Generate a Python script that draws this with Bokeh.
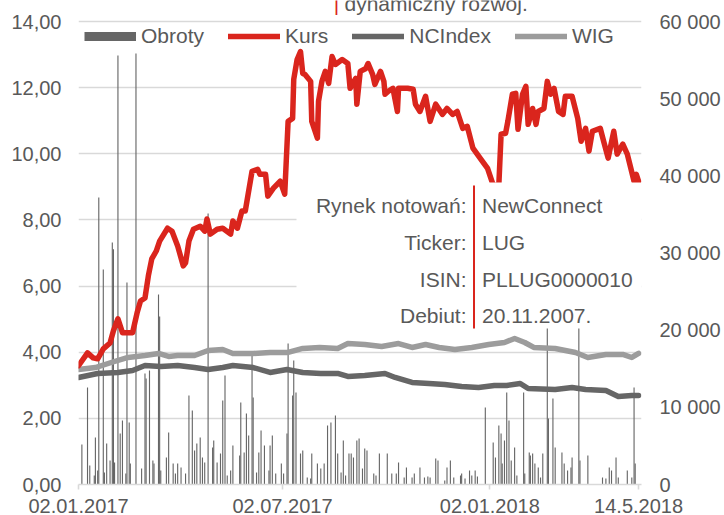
from datetime import datetime, timedelta
from bokeh.plotting import figure
from bokeh.models import (Range1d, LinearAxis, FixedTicker, Legend, LegendItem,
                          BoxAnnotation, Label, ColumnDataSource)
from bokeh.embed import file_html
from bokeh.resources import INLINE

# ---------------- data ----------------
kurs_dates = ["2017-01-02","2017-01-10","2017-01-15","2017-01-19","2017-01-24","2017-01-30","2017-02-02","2017-02-06","2017-02-10","2017-02-19",
"2017-02-23","2017-02-26","2017-03-02","2017-03-05","2017-03-08","2017-03-12","2017-03-15","2017-03-22","2017-03-26","2017-03-31",
"2017-04-05","2017-04-07","2017-04-10","2017-04-14","2017-04-20","2017-04-24","2017-04-26","2017-04-29","2017-05-05","2017-05-10",
"2017-05-17","2017-05-19","2017-05-23","2017-05-27","2017-05-30","2017-06-05","2017-06-10","2017-06-12","2017-06-17","2017-06-19",
"2017-06-24","2017-06-30","2017-07-04","2017-07-07","2017-07-11","2017-07-12","2017-07-15","2017-07-18","2017-07-20","2017-07-22",
"2017-07-27","2017-07-28","2017-08-02","2017-08-03","2017-08-06","2017-08-09","2017-08-12","2017-08-15","2017-08-18","2017-08-24",
"2017-08-29","2017-08-31","2017-09-05","2017-09-06","2017-09-09","2017-09-14","2017-09-16","2017-09-20","2017-09-22","2017-09-27",
"2017-09-30","2017-10-01","2017-10-04","2017-10-08","2017-10-12","2017-10-13","2017-10-21","2017-10-26","2017-10-28","2017-11-01",
"2017-11-06","2017-11-10","2017-11-15","2017-11-21","2017-11-25","2017-11-30","2017-12-04","2017-12-09","2017-12-13","2017-12-18",
"2017-12-25","2017-12-31","2018-01-05","2018-01-10","2018-01-12","2018-01-16","2018-01-18","2018-01-22","2018-01-25","2018-01-27",
"2018-01-31","2018-02-03","2018-02-05","2018-02-09","2018-02-12","2018-02-14","2018-02-19","2018-02-22","2018-02-25","2018-02-28",
"2018-03-04","2018-03-08","2018-03-10","2018-03-16","2018-03-21","2018-03-24","2018-03-28","2018-03-31","2018-04-03","2018-04-10",
"2018-04-13","2018-04-17","2018-04-22","2018-04-25","2018-04-30","2018-05-04","2018-05-10","2018-05-12","2018-05-14"]
kurs_values = [3.59,3.98,3.83,3.80,4.10,4.28,4.65,5.01,4.59,4.59,
5.19,5.55,5.64,6.31,6.82,7.06,7.36,7.75,7.66,7.21,
6.61,6.70,7.36,7.72,7.81,7.66,8.03,7.57,7.72,7.75,
7.57,7.97,7.75,8.27,8.27,9.47,9.53,9.38,9.38,8.72,
8.96,9.17,8.78,10.98,11.07,12.25,12.85,13.09,12.43,12.40,
12.19,10.98,10.47,11.59,12.19,12.49,12.13,12.94,12.70,12.85,
12.73,11.98,12.28,11.50,12.49,12.58,12.73,12.40,12.10,12.49,
12.19,11.80,11.89,11.98,11.28,11.98,11.98,11.95,11.50,11.28,
11.74,10.98,11.50,11.19,11.37,11.19,11.28,10.77,10.83,10.17,
9.84,9.56,9.05,9.05,10.59,10.62,10.98,11.80,11.83,10.74,
11.80,12.04,10.89,11.37,10.89,11.28,11.37,12.19,11.80,11.98,
11.28,11.19,11.74,11.74,11.07,10.38,10.77,10.08,10.68,10.77,
10.38,9.87,10.68,9.99,10.29,9.99,9.17,9.38,9.17]

nc_dates = ["2017-01-02","2017-01-19","2017-02-06","2017-02-19","2017-03-02","2017-03-16","2017-03-31","2017-04-15","2017-04-27","2017-05-10",
"2017-05-19","2017-06-06","2017-06-21","2017-07-06","2017-07-20","2017-08-05","2017-08-20","2017-08-29","2017-09-13","2017-10-01",
"2017-10-10","2017-10-25","2017-11-09","2017-11-23","2017-12-08","2017-12-23","2018-01-06","2018-01-17","2018-01-29","2018-02-05",
"2018-03-01","2018-03-16","2018-03-28","2018-04-15","2018-04-26","2018-05-08","2018-05-14"]
nc_values = [13870,14390,14520,14770,15420,15290,15420,15160,14900,15160,
15420,15160,14520,14900,14520,14390,14390,14000,14130,14390,
13870,13220,13090,12960,12700,12570,12830,12830,13090,12440,
12310,12570,12310,12180,11400,11530,11530]

wig_dates = ["2017-01-02","2017-01-17","2017-01-31","2017-02-15","2017-03-02","2017-03-14","2017-03-23","2017-03-31","2017-04-15","2017-04-27",
"2017-05-10","2017-05-19","2017-06-06","2017-06-21","2017-07-07","2017-07-20","2017-08-04","2017-08-20","2017-08-29","2017-09-13",
"2017-09-28","2017-10-13","2017-10-25","2017-11-06","2017-11-18","2017-12-02","2017-12-17","2018-01-01","2018-01-15","2018-01-24",
"2018-02-02","2018-02-10","2018-03-01","2018-03-19","2018-03-30","2018-04-15","2018-04-30","2018-05-08","2018-05-14"]
wig_values = [14900,15160,15810,16460,16720,16980,16590,16720,16720,17370,
17500,16980,16980,17110,17110,17630,17760,17630,18270,18140,
17880,18270,17760,18140,17760,17500,17760,18140,18400,18920,
18400,17760,17630,17110,16460,16850,16850,16460,16980]

obroty_dates = ["2017-01-05","2017-01-10","2017-01-12","2017-01-16","2017-01-17","2017-01-19","2017-01-20","2017-01-24","2017-01-25","2017-01-27",
"2017-01-30","2017-02-01","2017-02-02","2017-02-03","2017-02-06","2017-02-08","2017-02-10","2017-02-13","2017-02-14","2017-02-16",
"2017-02-17","2017-02-22","2017-02-27","2017-03-02","2017-03-03","2017-03-06","2017-03-09","2017-03-10","2017-03-14","2017-03-15",
"2017-03-16","2017-03-21","2017-03-23","2017-03-27","2017-03-29","2017-03-31","2017-04-03","2017-04-07","2017-04-10","2017-04-13",
"2017-04-15","2017-04-17","2017-04-20","2017-04-22","2017-04-24","2017-04-27","2017-05-01","2017-05-02","2017-05-05","2017-05-08",
"2017-05-10","2017-05-12","2017-05-14","2017-05-17","2017-05-19","2017-05-25","2017-05-26","2017-05-29","2017-05-31","2017-06-02",
"2017-06-05","2017-06-06","2017-06-09","2017-06-11","2017-06-13","2017-06-16","2017-06-20","2017-06-21","2017-06-23","2017-06-26",
"2017-07-01","2017-07-03","2017-07-06","2017-07-07","2017-07-11","2017-07-12","2017-07-14","2017-07-18","2017-07-20","2017-07-24",
"2017-07-27","2017-07-28","2017-08-02","2017-08-05","2017-08-08","2017-08-11","2017-08-14","2017-08-18","2017-08-20","2017-08-23",
"2017-08-25","2017-08-27","2017-08-30","2017-09-01","2017-09-03","2017-09-06","2017-09-08","2017-09-11","2017-09-13","2017-09-15",
"2017-09-21","2017-09-23","2017-09-26","2017-10-03","2017-10-07","2017-10-11","2017-10-13","2017-10-18","2017-10-20","2017-10-25",
"2017-10-27","2017-11-01","2017-11-05","2017-11-08","2017-11-10","2017-11-15","2017-11-17","2017-11-23","2017-11-25","2017-11-28",
"2017-12-01","2017-12-07","2017-12-08","2017-12-11","2017-12-15","2017-12-17","2017-12-20","2017-12-22","2017-12-29","2018-01-05",
"2018-01-07","2018-01-10","2018-01-12","2018-01-13","2018-01-15","2018-01-17","2018-01-19","2018-01-21","2018-01-24","2018-01-26",
"2018-02-01","2018-02-02","2018-02-06","2018-02-07","2018-02-09","2018-02-11","2018-02-14","2018-02-16","2018-02-18","2018-02-22",
"2018-02-23","2018-02-27","2018-03-01","2018-03-07","2018-03-09","2018-03-12","2018-03-15","2018-03-16","2018-03-22","2018-03-23",
"2018-03-30","2018-04-12","2018-04-15","2018-04-18","2018-04-20","2018-04-24","2018-04-26","2018-05-04","2018-05-08","2018-05-10",
"2018-05-11"]
obroty_values = [5180,12570,2460,1170,6090,1810,37200,27860,1550,5310,
3110,31360,30500,2850,55600,6610,8290,1430,26180,8040,
2720,55860,2070,14390,13740,14770,3110,2720,24620,21770,
1810,3500,6740,2720,1430,2720,2200,1430,11530,9590,
4410,5310,6090,3500,2850,35120,4800,5700,2850,4020,
10890,14130,1170,1810,5050,3760,10630,4150,9200,6350,
16720,11280,1550,4150,7000,5050,1810,5050,6350,1430,
2720,1430,6610,18270,11530,16070,11920,4020,4410,900,
780,4020,2720,2070,2720,7650,8040,8940,4020,1550,
5700,1170,4020,4020,3500,5700,5960,2070,4670,4410,
1430,1170,4020,4020,1430,1430,2850,910,2200,910,
1430,2200,910,1040,910,3370,3110,520,2200,3110,
910,1170,1430,780,1810,1170,1810,1040,9980,5440,
3500,7650,6610,2720,5700,11920,8290,3110,4800,1170,
11920,1430,4150,3760,4020,2720,2200,910,4020,25000,
8550,11150,4800,4150,2720,1810,2200,3500,25000,3110,
3760,910,780,2200,1810,3500,910,1810,910,12570,
2720]

left_ticks = [0, 2, 4, 6, 8, 10, 12, 14]
left_labels = ["0,00", "2,00", "4,00", "6,00", "8,00", "10,00", "12,00", "14,00"]
right_ticks = [0, 10000, 20000, 30000, 40000, 50000, 60000]
right_labels = ["0", "10 000", "20 000", "30 000", "40 000", "50 000", "60 000"]
x_tick_dates = ["2017-01-02", "2017-07-02", "2018-01-02", "2018-05-14"]
x_tick_labels = ["02.01.2017", "02.07.2017", "02.01.2018", "14.5.2018"]

info_keys = ["Rynek notowań:", "Ticker:", "ISIN:", "Debiut:"]
info_vals = ["NewConnect", "LUG", "PLLUG0000010", "20.11.2007."]
top_text = "dynamiczny rozwój."

# ---------------- helpers ----------------
EPOCH = datetime(1970, 1, 1)
def to_dt(s):
    return datetime.strptime(s, "%Y-%m-%d")
def ms(d):
    return (d - EPOCH).total_seconds() * 1000.0

x_start = datetime(2017, 1, 2)
x_end = x_start + timedelta(days=499.6)

# plot frame reaches the very top of the picture; the "14,00" line sits 21px below it
FL, FR, FB = 78, 641, 484
TOP_GRID = 21
W, H = 724, 515
Y_TOP = 14.0 * FB / (FB - TOP_GRID)
V_TOP = 60000.0 * FB / (FB - TOP_GRID)

def px_x(px):
    return ms(x_start) + (px - FL) / (FR - FL) * (ms(x_end) - ms(x_start))
def px_y(py):
    return (FB - py) / FB * Y_TOP

FONT = "Liberation Sans"
GRAY_TXT = "#595959"
RED = "#da251d"
DARK = "#666666"
LIGHT = "#9c9c9c"

p = figure(width=W, height=H, x_axis_type="datetime",
           x_range=Range1d(x_start, x_end), y_range=Range1d(0, Y_TOP),
           output_backend="svg", toolbar_location=None,
           min_border_left=FL, min_border_right=W - FR,
           min_border_top=0, min_border_bottom=H - FB,
           margin=0)
p.outline_line_color = None
p.background_fill_color = "white"
p.border_fill_color = "white"
p.extra_y_ranges = {"vol": Range1d(0, V_TOP)}

# grid
p.xgrid.visible = False
p.ygrid.ticker = FixedTicker(ticks=left_ticks)
p.ygrid.grid_line_color = "#d9d9d9"
p.ygrid.grid_line_width = 1.6

# left axis
la = p.yaxis[0]
la.ticker = FixedTicker(ticks=left_ticks)
la.major_label_overrides = {t: l for t, l in zip(left_ticks, left_labels)}
la.axis_line_color = None
la.major_tick_line_color = None
la.minor_tick_line_color = None
la.major_tick_out = 0
la.minor_tick_out = 0
la.major_label_standoff = 17
la.major_label_text_font = FONT
la.major_label_text_font_size = "20px"
la.major_label_text_color = GRAY_TXT

# right axis
ra = LinearAxis(y_range_name="vol")
ra.ticker = FixedTicker(ticks=right_ticks)
ra.major_label_overrides = {t: l for t, l in zip(right_ticks, right_labels)}
ra.axis_line_color = None
ra.major_tick_line_color = None
ra.minor_tick_line_color = None
ra.major_tick_out = 0
ra.minor_tick_out = 0
ra.major_label_standoff = 18
ra.major_label_text_font = FONT
ra.major_label_text_font_size = "20px"
ra.major_label_text_color = GRAY_TXT
p.add_layout(ra, "right")

# x axis
xa = p.xaxis[0]
xt = [int(ms(to_dt(d))) for d in x_tick_dates]
xa.ticker = FixedTicker(ticks=xt)
xa.major_label_overrides = {t: l for t, l in zip(xt, x_tick_labels)}
xa.axis_line_color = "#d9d9d9"
xa.axis_line_width = 1.6
xa.major_tick_line_color = "#d9d9d9"
xa.major_tick_line_width = 1.6
xa.major_tick_in = 0
xa.major_tick_out = 5
xa.minor_tick_out = 0
xa.minor_tick_line_color = None
xa.major_label_standoff = 9
xa.major_label_text_font = FONT
xa.major_label_text_font_size = "20px"
xa.major_label_text_color = GRAY_TXT

# data marks
bars_src = ColumnDataSource(dict(x=[to_dt(d) for d in obroty_dates], top=obroty_values))
p.vbar(x="x", top="top", bottom=0, width=86400000, source=bars_src,
       y_range_name="vol", fill_color=DARK, line_color=None)

wig_r = p.line([to_dt(d) for d in wig_dates], wig_values, y_range_name="vol",
               line_color=LIGHT, line_width=5.5, line_join="round", line_cap="round")
nc_r = p.line([to_dt(d) for d in nc_dates], nc_values, y_range_name="vol",
              line_color=DARK, line_width=5.5, line_join="round", line_cap="round")
kurs_r = p.line([to_dt(d) for d in kurs_dates], kurs_values,
                line_color=RED, line_width=5.5, line_join="round", line_cap="round")

# legend (Obroty swatch drawn by a legend-only renderer with no visible point)
obr_swatch = p.line(x=[x_start], y=[float("nan")], line_color=DARK, line_width=9,
                    line_cap="butt")
legend = Legend(items=[LegendItem(label="Obroty", renderers=[obr_swatch]),
                       LegendItem(label="Kurs", renderers=[kurs_r]),
                       LegendItem(label="NCIndex", renderers=[nc_r]),
                       LegendItem(label="WIG", renderers=[wig_r])],
                orientation="horizontal", location=(6, 436),
                margin=0, padding=0, spacing=24,
                glyph_width=52, glyph_height=20, label_height=20,
                label_standoff=5,
                label_text_font=FONT, label_text_font_size="21px",
                label_text_color=GRAY_TXT,
                background_fill_alpha=0, border_line_color=None)
p.add_layout(legend)

# info box
p.add_layout(BoxAnnotation(left=px_x(296), right=ms(x_end), top=px_y(182), bottom=px_y(328),
                           fill_color="white", fill_alpha=1.0, line_color=None))
p.add_layout(BoxAnnotation(left=px_x(472.5), right=px_x(474.5), top=px_y(185), bottom=px_y(328),
                           fill_color=RED, fill_alpha=1.0, line_color=None))
row_y = [205, 242, 279, 315]
for k, v, ry in zip(info_keys, info_vals, row_y):
    p.add_layout(Label(x=px_x(466), y=px_y(ry), text=k, text_align="right",
                       text_baseline="middle", text_font=FONT,
                       text_font_size="21px", text_color=GRAY_TXT))
    p.add_layout(Label(x=px_x(481.5), y=px_y(ry), text=v, text_align="left",
                       text_baseline="middle", text_font=FONT,
                       text_font_size="21px", text_color=GRAY_TXT))

# text cut off at the very top of the picture (as in the reference)
p.add_layout(Label(x=px_x(336), y=px_y(3), text="|", text_align="center",
                   text_baseline="alphabetic", text_font=FONT,
                   text_font_size="21px", text_color=RED))
p.add_layout(Label(x=px_x(344), y=px_y(3), text=top_text, text_align="left",
                   text_baseline="alphabetic", text_font=FONT,
                   text_font_size="21px", text_color=GRAY_TXT))

open("out.html", "w").write(file_html(p, INLINE))
